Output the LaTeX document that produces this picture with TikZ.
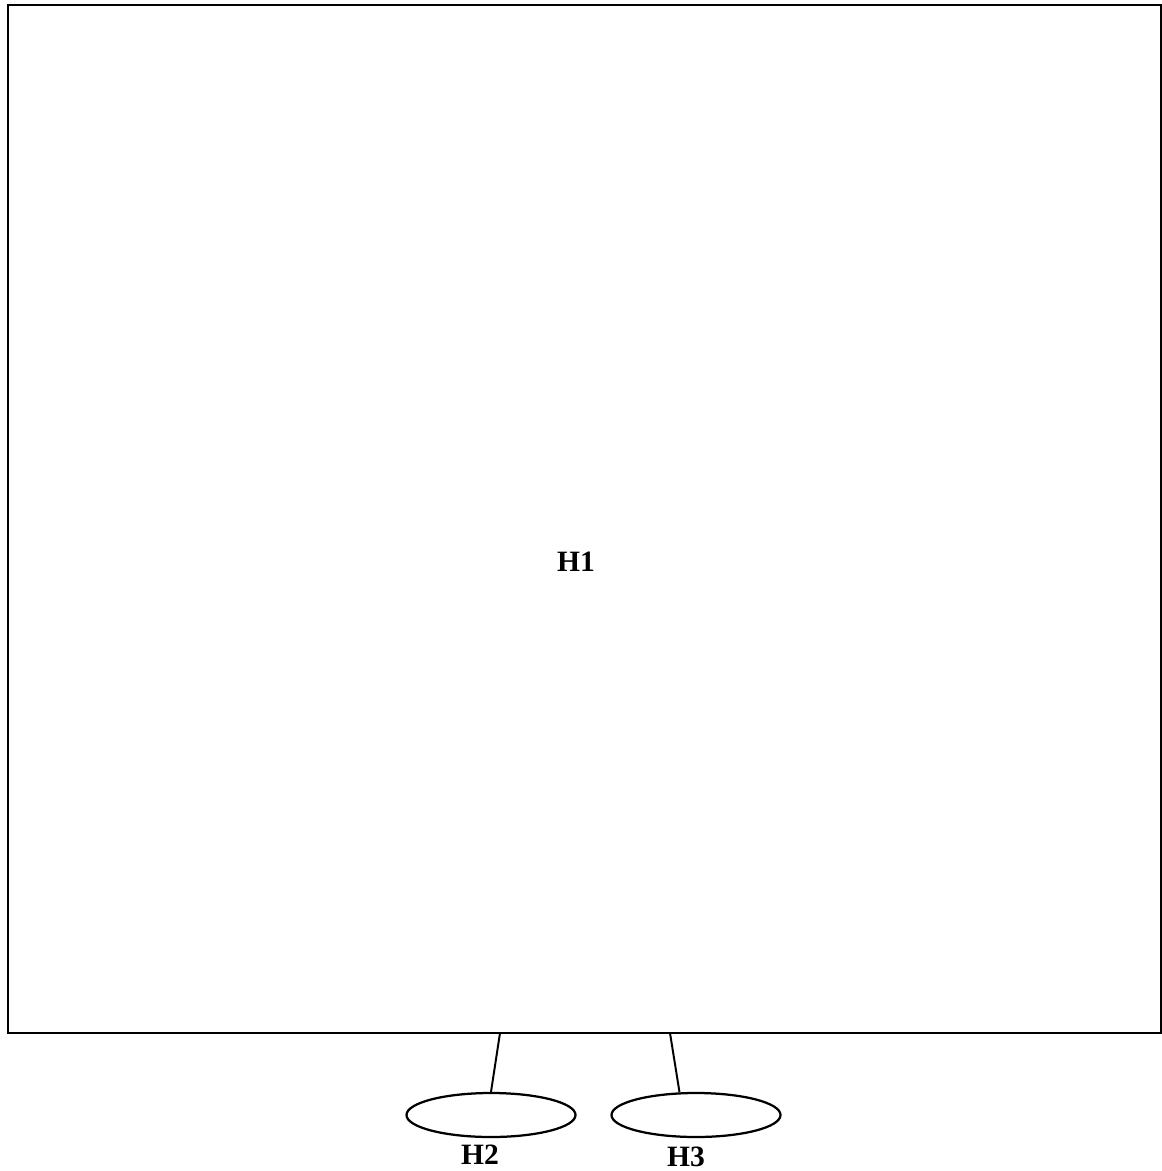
\documentclass[tikz,border=0pt]{standalone}
\usepackage{fontspec}
\setmainfont{Liberation Serif}
\usetikzlibrary{shapes.geometric}

\begin{document}
\begin{tikzpicture}[inner sep=0pt,
  lbl/.style={font=\fontsize{21}{24}\selectfont\bfseries},
  hole/.style={draw,ellipse,line width=1.6pt,minimum width=169*0.025cm,minimum height=44*0.025cm}]
\def\u{0.025cm}
\useasboundingbox (0,0) rectangle (1162*\u,-1171*\u);
\node[draw,line width=2pt,minimum width=1153*\u,minimum height=1028*\u] (box) at (584.5*\u,-519*\u) {};
\node[lbl] (h1) at (576*\u,-562*\u) {H1};
\coordinate (b2) at (500*\u,-1033*\u);
\coordinate (b3) at (670*\u,-1033*\u);
\node[hole] (e2) at (491*\u,-1115*\u) {};
\node[hole] (e3) at (696*\u,-1115*\u) {};
\node[lbl] (h2) at (480*\u,-1155*\u) {H2};
\node[lbl] (h3) at (686*\u,-1157*\u) {H3};

\draw[line width=1.4pt] (b2) -- (e2.north);
\draw[line width=1.4pt] (b3) -- (e3.126);
\end{tikzpicture}
\end{document}
